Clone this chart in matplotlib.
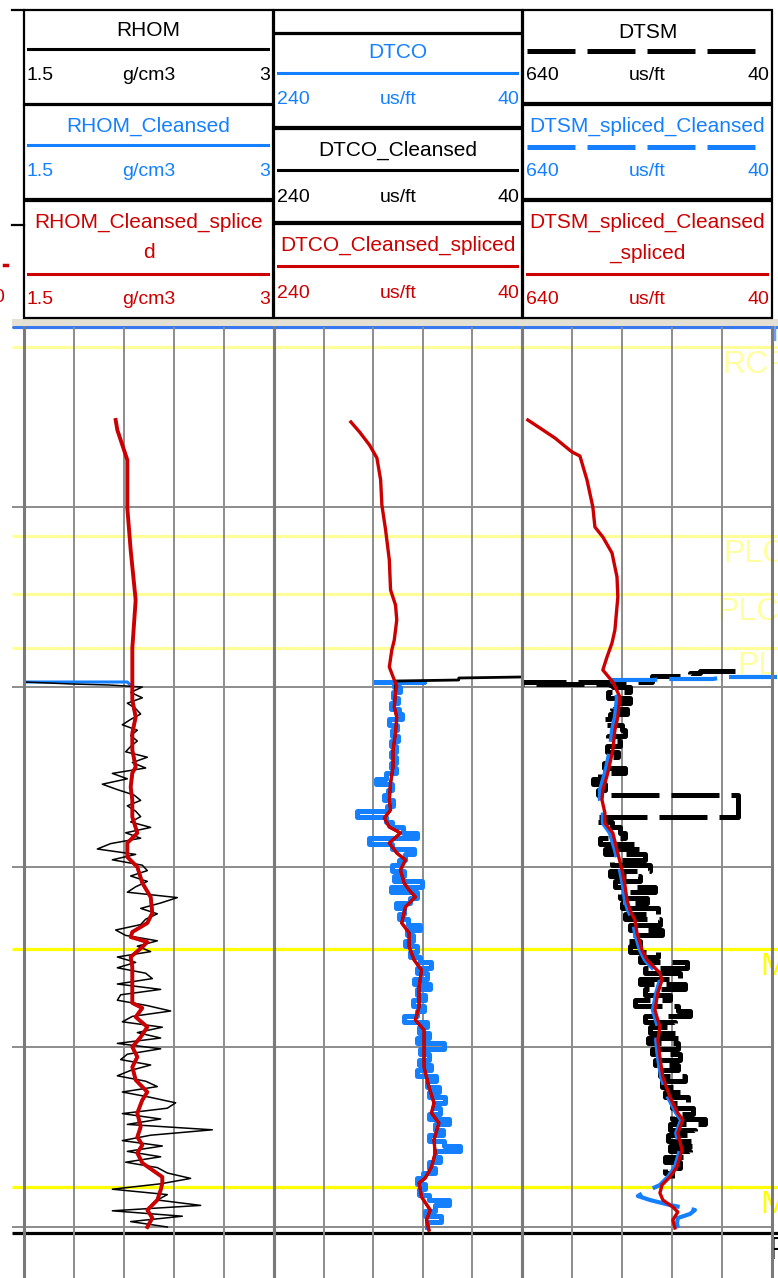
import numpy as np
import matplotlib
matplotlib.use('Agg')
import matplotlib.pyplot as plt
from matplotlib.patches import Rectangle

plt.rcParams['font.family'] = ['Liberation Sans', 'DejaVu Sans']

W, H = 778, 1278
TOP = 327  # pixel row where the depth tracks start

# ---------------- data ----------------
# raw logs, sampled every 2.7 m between 1180 and 1450
raw_depth = np.linspace(1180, 1450, 101)

rhom = [2.21, 2.14, 2.21, 2.12, 2.17, 2.20, 2.14, 2.09, 2.18, 2.14,
        2.18, 2.14, 2.11, 2.24, 2.15, 2.23, 2.03, 2.12, 1.97, 2.06,
        2.16, 2.20, 2.12, 2.17, 2.20, 2.14, 2.26, 2.11, 2.20, 2.02,
        1.94, 2.17, 2.03, 2.21, 2.24, 2.14, 2.24, 2.17, 2.12, 2.42,
        2.32, 2.20, 2.30, 2.23, 2.20, 2.05, 2.11, 2.30, 2.18, 2.26,
        2.06, 2.17, 2.06, 2.23, 2.27, 2.06, 2.32, 2.08, 2.06, 2.24,
        2.38, 2.15, 2.09, 2.33, 2.18, 2.32, 2.06, 2.32, 2.12, 2.08,
        2.26, 2.14, 2.06, 2.23, 2.30, 2.09, 2.26, 2.41, 2.36, 2.09,
        2.32, 2.12, 2.63, 2.26, 2.09, 2.33, 2.12, 2.32, 2.11, 2.30,
        2.36, 2.50, 2.32, 2.03, 2.36, 2.30, 2.56, 2.03, 2.45, 2.14,
        2.36]
rhom_top_depth = [1177.5, 1178.5, 1179.0]
rhom_top = [1.50, 1.79, 2.01]

dtco = [143, 138, 144, 140, 146, 139, 137, 147, 141, 145,
        140, 146, 142, 146, 142, 146, 142, 150, 158, 145,
        148, 151, 144, 149, 173, 150, 145, 136, 125, 163,
        145, 127, 134, 139, 145, 135, 143, 121, 146, 125,
        130, 142, 135, 139, 132, 122, 133, 128, 134, 125,
        130, 122, 113, 125, 117, 127, 114, 125, 118, 128,
        119, 125, 135, 117, 123, 115, 125, 103, 122, 115,
        123, 113, 125, 109, 117, 107, 115, 102, 111, 106,
        115, 99, 110, 104, 115, 103, 90, 110, 106, 115,
        110, 120, 125, 118, 123, 115, 99, 110, 118, 105,
        117]
dtco_top_depth = [1177.5, 1177.5]
dtco_top = [158, 119]

dtsm = [422, 381, 434, 381, 424, 388, 429, 446, 400, 393,
        434, 405, 436, 410, 429, 443, 393, 453, 470, 441,
        458, 122, 122, 122, 122, 465, 424, 405, 393, 453,
        357, 441, 345, 424, 333, 429, 357, 417, 321, 405,
        340, 400, 314, 393, 309, 381, 304, 386, 357, 381,
        314, 357, 244, 345, 261, 357, 249, 345, 285, 369,
        266, 237, 345, 273, 333, 261, 338, 266, 328, 261,
        321, 266, 309, 249, 304, 261, 297, 242, 280, 230,
        280, 201, 285, 225, 290, 225, 285, 237, 297, 261,
        297, 280]
dtsm_top_depth = [1172, 1173, 1174.5, 1175, 1177.5, 1177.5, 1178.5, 1179]
dtsm_top = [129, 213, 237, 328, 328, 640, 640, 429]

# cleansed / spliced curves
rhom_sp_depth = [1046.5, 1051.5, 1059, 1066.5, 1090.5, 1111.5, 1136.5, 1160.5, 1179.5,
                 1180, 1186.5, 1195, 1203, 1211.5, 1220, 1223, 1230, 1236.5, 1245,
                 1253, 1258, 1265, 1270, 1278, 1285, 1293, 1298, 1302.5, 1305,
                 1307.5, 1310, 1315, 1320, 1326.5, 1333, 1338, 1340.5, 1345, 1350,
                 1355, 1360, 1365, 1370, 1376.5, 1382.5, 1386.5, 1393, 1400, 1405,
                 1409, 1413, 1418, 1421.5, 1425, 1428, 1431.5, 1436.5, 1441.5, 1445.5,
                 1450]
rhom_sp = [2.05, 2.06, 2.09, 2.12, 2.12, 2.14, 2.17, 2.15, 2.15,
           2.15, 2.15, 2.17, 2.15, 2.15, 2.17, 2.15, 2.14, 2.15, 2.15,
           2.18, 2.12, 2.12, 2.18, 2.21, 2.26, 2.27, 2.24, 2.15, 2.14,
           2.24, 2.21, 2.14, 2.15, 2.15, 2.15, 2.15, 2.21, 2.17, 2.24,
           2.20, 2.15, 2.18, 2.15, 2.17, 2.24, 2.21, 2.18, 2.20, 2.18,
           2.21, 2.18, 2.21, 2.27, 2.33, 2.33, 2.32, 2.30, 2.24, 2.27,
           2.24]
rhom_cl_top_depth = [1177.5, 1177.5]
rhom_cl_top = [1.50, 2.12]

dtco_sp_depth = [1047.5, 1052.5, 1059, 1065.5, 1076.5, 1089, 1101.5, 1116.5, 1131.5, 1139,
                 1146.5, 1156.5, 1161.5, 1170, 1176.5, 1179.5,
                 1183, 1190, 1195, 1203, 1211.5, 1220, 1228, 1236.5, 1241.5, 1245.5,
                 1250, 1253, 1258, 1263, 1266.5, 1271.5, 1278, 1281.5, 1285, 1290,
                 1298, 1303, 1310, 1316.5, 1321.5, 1330, 1340, 1346.5, 1351.5, 1360,
                 1370, 1380, 1388, 1393, 1398, 1406.5, 1413, 1420, 1425.5, 1428,
                 1435, 1441.5, 1446.5, 1451.5]
dtco_sp = [178, 171, 163, 157, 154, 153, 150, 147, 146, 142,
           141, 143, 145, 147, 143, 141,
           142, 143, 141, 142, 144, 144, 146, 147, 146, 151,
           147, 138, 147, 141, 134, 138, 135, 131, 126, 134,
           137, 131, 131, 127, 121, 123, 123, 126, 119, 119,
           119, 115, 111, 113, 107, 111, 110, 113, 118, 123,
           121, 114, 117, 115]
dtco_cl_top_depth = [1175, 1175.5, 1176.5, 1177]
dtco_cl_top = [41, 91, 91, 142]

dtsm_sp_depth = [1046.5, 1050.5, 1055.5, 1062.5, 1064.5, 1076.5, 1090, 1100, 1105, 1113,
                 1125, 1135, 1151.5, 1158, 1165, 1171.5, 1177.5,
                 1185, 1195, 1201.5, 1211.5, 1223, 1231.5, 1236.5, 1243, 1248, 1253,
                 1261.5, 1271.5, 1279, 1286.5, 1291.5, 1296.5, 1303, 1311.5, 1316.5, 1323,
                 1326.5, 1333, 1341.5, 1350, 1356.5, 1365, 1375, 1385, 1393, 1396.5,
                 1403, 1411.5, 1420, 1425, 1429, 1433, 1436.5, 1440, 1442.5, 1446.5,
                 1450.5]
dtsm_sp = [626, 597, 561, 520, 501, 484, 470, 465, 446, 424,
           412, 410, 417, 424, 436, 446, 422,
           405, 410, 417, 422, 434, 446, 448, 441, 441, 422,
           412, 400, 393, 388, 381, 369, 364, 352, 340, 309,
           304, 314, 321, 309, 314, 309, 302, 285, 266, 254,
           266, 256, 268, 285, 304, 309, 302, 278, 266, 278,
           273]

dtsm_cl_depth = [1175, 1175, 1176, 1176, 1176.5, 1176.5, 1179.5, 1185, 1195, 1201.5,
                 1211.5, 1223, 1231.5, 1236.5, 1243, 1248, 1253, 1261.5, 1271.5, 1279,
                 1286.5, 1291.5, 1296.5, 1303, 1311.5, 1316.5, 1323, 1326.5, 1333, 1341.5,
                 1350, 1356.5, 1365, 1375, 1385, 1393, 1396.5, 1403, 1411.5, 1420,
                 1425, 1429, 1432.5, 1434.5, 1436.5, 1439, 1441.5, 1443.5, 1445.5, 1448,
                 1450.5]
dtsm_cl = [28, 153, 182, 297, 328, 422, 424, 412, 417, 424,
           429, 441, 453, 453, 446, 446, 429, 417, 405, 398,
           393, 386, 374, 369, 357, 345, 316, 309, 318, 326,
           314, 318, 314, 306, 290, 270, 258, 270, 261, 273,
           290, 309, 345, 362, 333, 285, 225, 237, 266, 268,
           266]

# formation tops
top_depth = [1000, 1010, 1104.5, 1133.5, 1160.5, 1311, 1430, 1453]
top_name = ['T', 'RCF', 'PLC', 'PLC', 'PL', 'M', 'M', 'F']

grid_depth = [1000, 1090, 1180, 1270, 1360, 1450]

# ---------------- styles ----------------
blue = '#1580ff'
red = '#cc0000'
pale = '#ffff99'
grid_c = '#8c8c8c'
top_line_c = ['#3a78ee', pale, pale, pale, pale, '#ffff00', '#ffff00', 'black']
top_text_c = ['#6a9cff', '#ffffa0', '#ffffa0', '#ffffa0', '#ffffa0', '#ffff00', '#ffff00', 'black']
top_text_x = [768, 722, 723, 717, 737, 760, 760, 768]
top_text_dy = [4, 9, 9, 9, 9, 9, 9, 9]
dash = (0, (9.6, 2.4))

fig = plt.figure(figsize=(W / 100, H / 100), dpi=100)
ybot = 1000 + (H - TOP) / 2
frac = (H - TOP) / H

# background: depth grid and formation tops
bg = fig.add_axes([12 / W, 0, (W - 12) / W, frac])
bg.set_xlim(12, W)
bg.set_ylim(ybot, 1000)
bg.axis('off')
bg.hlines(grid_depth, 12, 772, color=grid_c, lw=1.4)
for d, name, lc, tc, tx, dy in zip(top_depth, top_name, top_line_c, top_text_c,
                                   top_text_x, top_text_dy):
    bg.hlines(d, 12, W, color=lc, lw=2.3, clip_on=False)
    bg.text(tx, d + dy, name, color=tc, fontsize=23 if name != 'T' else 17,
            ha='left', va='center', clip_on=False)


def make_track(x0, x1, lim, vgrid):
    ax = fig.add_axes([x0 / W, 0, (x1 - x0) / W, frac], facecolor='none')
    ax.set_xlim(*lim)
    ax.set_ylim(ybot, 1000)
    ax.set_xticks(vgrid)
    ax.set_yticks([])
    ax.grid(axis='x', color=grid_c, lw=1.4)
    ax.tick_params(length=0, labelbottom=False)
    ax.spines[['top', 'bottom']].set_visible(False)
    for s in ['left', 'right']:
        ax.spines[s].set_color('#7a7a7a')
        ax.spines[s].set_linewidth(2.2)
    return ax


ax1 = make_track(24, 274, (1.5, 3.0), [1.8, 2.1, 2.4, 2.7])
ax2 = make_track(274, 522, (240, 40), [200, 160, 120, 80])
ax3 = make_track(522, 772, (640, 40), [520, 400, 280, 160])

rd = np.array(rhom_sp_depth)
rv = np.array(rhom_sp)
ax1.plot(np.r_[rhom_cl_top, rv[rd >= 1180]], np.r_[rhom_cl_top_depth, rd[rd >= 1180]],
         color=blue, lw=2.2)
ax1.plot(np.r_[rhom_top, rhom], np.r_[rhom_top_depth, raw_depth], color='black', lw=1.1)
ax1.plot(rhom_sp, rhom_sp_depth, color=red, lw=2.8)

cd = np.array(dtco_sp_depth)
cv = np.array(dtco_sp)
ax2.plot(np.r_[dtco_top, dtco], np.r_[dtco_top_depth, raw_depth], color=blue, lw=3.6,
         drawstyle='steps-post')
ax2.plot(np.r_[dtco_cl_top, cv[cd >= 1180]], np.r_[dtco_cl_top_depth, cd[cd >= 1180]],
         color='black', lw=2.0)
ax2.plot(dtco_sp, dtco_sp_depth, color=red, lw=2.4)

ax3.plot(np.r_[dtsm_top, dtsm], np.r_[dtsm_top_depth, raw_depth[:len(dtsm)]], color='black',
         lw=3.6, ls=dash, drawstyle='steps-post')
ax3.plot(dtsm_cl, dtsm_cl_depth, color=blue, lw=3.0, ls=(0, (11.5, 2.9)), clip_on=False)
ax3.plot(dtsm_sp, dtsm_sp_depth, color=red, lw=2.4)

# ---------------- header ----------------
hdr = fig.add_axes([0, 0, 1, 1], facecolor='none')
hdr.set_xlim(0, W)
hdr.set_ylim(H, 0)
hdr.axis('off')
hdr.add_patch(Rectangle((12, 319), W - 12, 7, color='#e4e1d4', lw=0))

boxes = [(24, 273, 10, 104), (24, 273, 105, 199), (24, 273, 201, 318),
         (274, 522, 10, 33), (274, 522, 34, 127), (274, 522, 129, 222), (274, 522, 224, 318),
         (523, 772, 10, 103), (523, 772, 105, 199), (523, 772, 201, 318)]
for x0, x1, y0, y1 in boxes:
    hdr.add_patch(Rectangle((x0, y0), x1 - x0, y1 - y0, fill=False, ec='black', lw=1.6))
hdr.plot([12, 24], [10, 10], color='black', lw=1.6)
hdr.plot([12, 24], [225, 225], color='black', lw=1.6)
hdr.plot([4, 7], [265, 265], color=red, lw=2.5)
hdr.text(4, 298, '0', color=red, fontsize=14, ha='right', va='center')

legend = [
    (24, 273, ['RHOM'], 'black', [30], 49, 75, '1.5', 'g/cm3', '3', False),
    (24, 273, ['RHOM_Cleansed'], blue, [126], 145, 172, '1.5', 'g/cm3', '3', False),
    (24, 273, ['RHOM_Cleansed_splice', 'd'], red, [222, 253], 274, 300, '1.5', 'g/cm3', '3', False),
    (274, 522, ['DTCO'], blue, [53], 73, 100, '240', 'us/ft', '40', False),
    (274, 522, ['DTCO_Cleansed'], 'black', [150], 170, 197, '240', 'us/ft', '40', False),
    (274, 522, ['DTCO_Cleansed_spliced'], red, [245], 266, 293, '240', 'us/ft', '40', False),
    (523, 772, ['DTSM'], 'black', [32], 51, 75, '640', 'us/ft', '40', True),
    (523, 772, ['DTSM_spliced_Cleansed'], blue, [126], 147, 172, '640', 'us/ft', '40', True),
    (523, 772, ['DTSM_spliced_Cleansed', '_spliced'], red, [222, 253], 274, 300, '640', 'us/ft', '40', False),
]
for x0, x1, titles, c, tys, ly, sy, lo, unit, hi, dashed in legend:
    xm = (x0 + x1) / 2
    for t, ty in zip(titles, tys):
        hdr.text(xm, ty, t, color=c, fontsize=15, ha='center', va='center')
    if dashed:
        hdr.plot([x0 + 4, x0 + 232], [ly, ly], color=c, lw=3.6, ls=dash)
    else:
        hdr.plot([x0 + 4, x1 - 5], [ly, ly], color=c, lw=2.2)
    hdr.text(x0 + 3, sy, lo, color=c, fontsize=14, ha='left', va='center')
    hdr.text(xm, sy, unit, color=c, fontsize=14, ha='center', va='center')
    hdr.text(x1 - 3, sy, hi, color=c, fontsize=14, ha='right', va='center')

fig.savefig('out.png', dpi=100)
